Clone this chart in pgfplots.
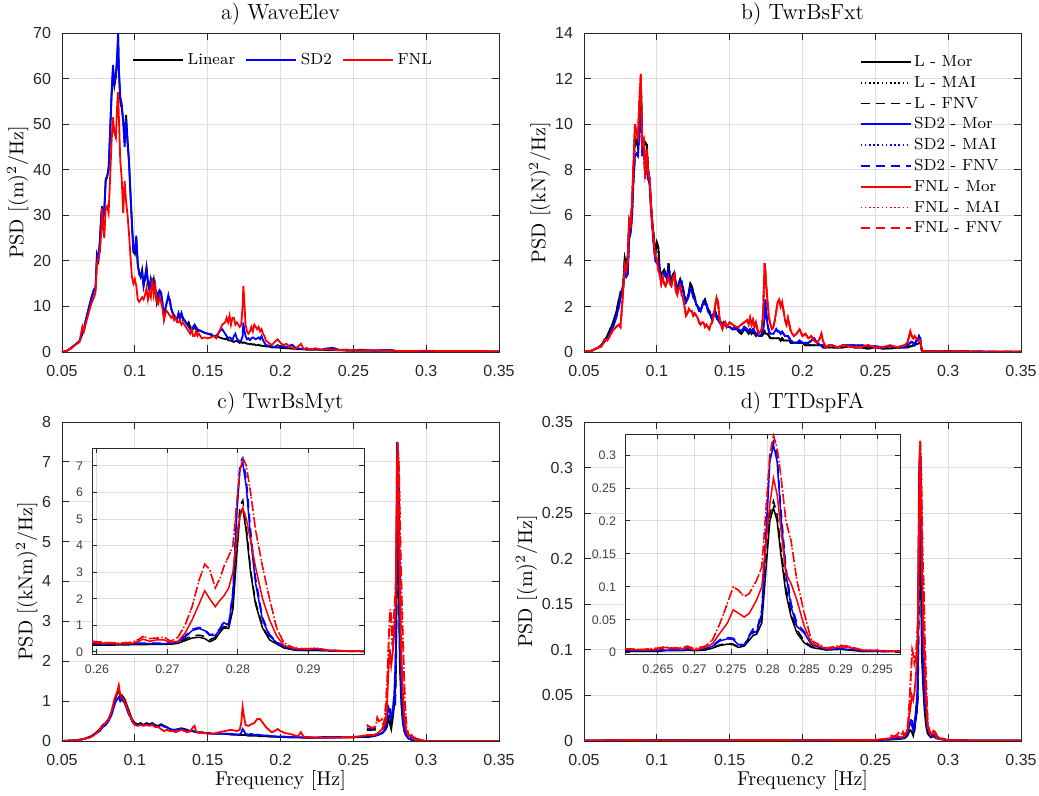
\documentclass[border=0pt]{standalone}
\usepackage{pgfplots}
\pgfplotsset{compat=1.18}
\usepackage{pgfplotstable}
\usepackage{fontspec}
\newfontfamily\tickf{Liberation Sans}

\pgfplotstableread{
x L S F
0.050 0.0 0.0 0.0
0.053 0.2 0.2 0.2
0.056 0.8 0.8 0.7
0.059 1.6 1.6 1.5
0.062 2.3 2.4 2.2
0.064 4.0 4.2 5.6
0.065 4.8 5.0 4.5
0.066 6.5 6.6 5.8
0.068 9.0 9.2 8.2
0.070 11.5 11.8 10.5
0.072 13.5 13.8 12.0
0.073 14.0 14.0 13.0
0.074 21.0 21.5 19.5
0.075 20.0 20.5 20.5
0.076 24.0 24.5 22.0
0.077 30.0 30.5 26.5
0.0775 31.5 32.0 31.5
0.078 29.0 29.5 29.0
0.079 30.5 31.0 25.0
0.080 37.5 38.0 31.5
0.081 38.5 38.5 32.0
0.082 40.0 40.5 30.5
0.083 48.0 48.0 38.0
0.084 56.0 56.5 46.0
0.085 62.0 63.0 51.5
0.086 58.5 59.0 48.0
0.087 60.5 60.5 47.0
0.088 65.0 66.0 55.0
0.0885 69.5 70.0 57.0
0.089 62.0 62.5 52.0
0.090 55.0 56.0 42.0
0.091 53.5 54.5 38.0
0.092 51.0 50.5 30.5
0.093 46.0 45.0 37.5
0.094 52.0 51.0 33.0
0.095 46.5 46.0 30.0
0.096 42.0 41.5 26.0
0.097 35.0 34.5 21.0
0.098 28.0 28.5 16.5
0.099 22.0 22.5 15.0
0.100 21.5 22.0 16.0
0.101 25.0 25.5 14.5
0.102 19.0 19.5 11.5
0.103 17.5 17.0 11.0
0.104 16.5 16.5 11.5
0.105 18.0 17.5 12.0
0.106 14.5 14.5 11.5
0.107 16.0 16.5 12.5
0.108 18.5 18.5 14.0
0.109 15.0 15.5 11.5
0.110 13.5 14.0 13.0
0.111 16.0 16.0 12.0
0.112 14.5 16.0 16.0
0.113 16.0 15.5 12.5
0.114 13.5 14.0 14.5
0.115 11.0 12.5 11.0
0.116 13.0 12.0 10.5
0.117 13.5 13.5 12.0
0.118 13.0 13.0 11.0
0.119 10.0 11.0 9.5
0.120 9.0 7.5 7.0
0.121 9.5 9.5 8.5
0.122 11.0 11.0 9.0
0.123 12.0 12.5 8.5
0.124 11.5 11.0 8.0
0.125 9.5 9.5 7.5
0.126 8.5 8.5 8.0
0.127 8.0 8.0 7.0
0.128 7.5 7.5 7.5
0.129 7.0 7.0 6.5
0.130 8.5 8.5 6.5
0.131 7.5 7.5 7.0
0.132 8.5 8.5 6.0
0.133 7.5 7.0 6.5
0.134 7.0 7.0 6.0
0.135 6.5 6.5 5.5
0.136 6.0 6.0 5.0
0.137 6.5 5.5 4.5
0.138 5.5 5.0 4.0
0.139 5.0 4.5 5.0
0.140 5.0 5.5 3.5
0.141 5.5 6.0 3.5
0.142 5.0 5.5 4.5
0.143 4.5 5.0 3.5
0.144 4.8 4.8 4.0
0.146 4.5 4.5 3.0
0.148 4.2 4.2 3.2
0.150 4.0 4.0 3.0
0.152 3.8 4.0 3.2
0.154 3.5 3.5 3.5
0.156 3.6 3.5 3.0
0.158 3.2 4.5 4.5
0.160 3.0 5.0 6.0
0.162 2.8 4.0 6.5
0.163 3.0 3.5 7.5
0.164 2.6 3.0 6.5
0.165 2.5 3.2 8.0
0.166 2.5 3.0 6.0
0.167 2.3 2.6 7.5
0.168 2.2 3.5 7.5
0.169 2.4 4.0 6.0
0.170 2.4 3.0 6.5
0.171 2.2 2.6 6.0
0.172 2.0 2.4 5.5
0.173 2.2 2.5 6.0
0.174 2.0 3.5 10.0
0.1745 2.0 6.5 14.5
0.175 2.1 5.0 12.0
0.176 2.0 3.5 6.0
0.177 1.8 2.8 4.5
0.178 1.8 3.0 4.0
0.179 1.7 2.6 4.5
0.180 1.8 3.0 5.5
0.181 1.6 3.2 4.5
0.182 1.7 3.0 6.0
0.183 1.5 2.8 5.5
0.184 1.5 3.0 5.0
0.185 1.6 3.2 5.5
0.186 1.4 2.8 4.5
0.187 1.4 3.5 5.0
0.188 1.3 2.6 4.0
0.189 1.3 2.0 3.5
0.190 1.2 1.5 2.5
0.192 1.2 1.4 2.0
0.194 1.0 1.2 1.5
0.196 1.0 1.1 2.2
0.198 1.0 1.5 2.8
0.200 0.9 1.2 2.0
0.202 0.9 1.4 1.5
0.204 0.8 1.0 1.8
0.206 0.8 1.4 1.2
0.208 0.7 1.6 1.0
0.210 0.7 1.0 0.6
0.212 0.6 0.8 1.2
0.214 0.6 0.7 1.8
0.216 0.6 0.6 0.6
0.218 0.5 0.7 0.9
0.220 0.5 0.6 0.5
0.224 0.5 0.7 0.8
0.228 0.5 0.5 0.5
0.232 0.4 0.8 0.6
0.236 0.4 0.9 0.5
0.240 0.4 0.5 0.4
0.245 0.3 0.5 0.5
0.250 0.3 0.4 0.4
0.255 0.3 0.5 0.3
0.260 0.3 0.4 0.4
0.265 0.3 0.3 0.4
0.270 0.3 0.4 0.3
0.275 0.3 0.5 0.4
0.280 0.2 0.2 0.2
0.290 0.2 0.2 0.2
0.300 0.2 0.2 0.3
0.310 0.2 0.2 0.2
0.320 0.2 0.2 0.2
0.330 0.1 0.2 0.2
0.340 0.1 0.1 0.2
0.350 0.1 0.1 0.1
}\ta

\pgfplotstableread{
x L S F
0.050 0.00 0.00 0.00
0.055 0.05 0.05 0.05
0.060 0.20 0.20 0.20
0.062 0.30 0.30 0.25
0.064 0.50 0.45 0.55
0.066 0.70 0.60 0.50
0.068 1.00 0.85 0.75
0.070 1.30 1.10 0.95
0.072 1.70 1.50 1.10
0.074 2.30 2.00 1.20
0.075 2.60 2.40 1.10
0.076 2.50 2.60 1.90
0.077 3.00 3.00 2.80
0.078 4.10 3.50 3.80
0.079 3.80 3.30 3.60
0.080 4.20 3.40 4.00
0.081 5.50 5.00 5.80
0.082 5.60 5.20 5.60
0.083 6.40 6.00 6.60
0.084 8.00 7.60 8.30
0.085 9.40 8.60 10.0
0.086 9.30 8.70 9.60
0.087 9.00 8.60 9.40
0.088 10.2 9.60 11.0
0.089 11.8 10.6 12.2
0.0895 10.5 9.8 10.5
0.090 9.20 8.60 9.10
0.091 9.00 9.00 9.30
0.092 9.20 7.80 7.60
0.093 9.10 8.20 8.90
0.094 8.00 7.60 7.90
0.095 7.60 7.40 7.60
0.096 6.40 6.30 6.50
0.097 5.60 5.40 5.50
0.098 5.00 4.60 4.80
0.099 4.30 4.00 4.20
0.100 4.80 3.90 4.10
0.101 4.60 4.00 3.60
0.102 3.60 3.50 3.40
0.103 3.30 3.20 3.00
0.104 3.50 3.40 3.30
0.105 3.60 3.50 3.00
0.106 3.40 3.30 2.90
0.107 3.20 3.30 3.10
0.108 3.90 3.60 3.30
0.109 3.30 3.20 3.00
0.110 3.10 3.00 2.90
0.111 3.40 3.30 3.20
0.112 3.50 3.40 3.40
0.113 3.00 2.90 2.70
0.114 2.70 2.60 2.50
0.115 3.00 2.90 2.80
0.116 3.20 3.10 2.90
0.117 3.00 3.10 2.50
0.118 2.80 2.70 2.40
0.119 2.40 2.40 2.00
0.120 2.20 2.20 1.60
0.121 2.40 2.30 1.70
0.122 2.60 2.50 1.90
0.123 3.00 2.80 1.80
0.124 2.90 2.70 1.80
0.125 2.60 2.40 1.60
0.126 2.40 2.30 1.70
0.127 2.10 2.10 1.60
0.128 2.00 2.00 1.50
0.129 1.90 1.80 1.30
0.130 1.80 1.80 1.20
0.131 2.00 2.00 1.30
0.132 2.20 2.20 1.30
0.133 2.30 2.10 1.10
0.134 2.10 2.10 1.20
0.135 1.90 1.80 1.10
0.136 1.80 1.70 1.00
0.137 1.60 1.60 1.20
0.138 1.50 1.40 1.30
0.139 1.70 1.60 1.60
0.140 1.80 1.70 2.00
0.141 1.60 1.50 2.40
0.142 1.50 1.40 2.20
0.143 1.40 1.30 1.50
0.144 1.30 1.20 1.20
0.145 1.20 1.20 1.00
0.146 1.30 1.30 1.20
0.147 1.20 1.20 1.30
0.148 1.10 1.10 1.10
0.150 1.10 1.10 1.30
0.152 1.00 1.00 1.20
0.154 1.10 1.00 1.10
0.156 0.90 1.00 1.10
0.158 0.80 0.90 1.20
0.160 1.00 1.10 1.30
0.162 0.90 1.00 1.40
0.163 0.80 0.90 1.20
0.164 0.90 1.00 1.50
0.165 0.80 0.90 1.20
0.166 0.90 1.00 1.40
0.167 0.80 0.90 1.10
0.168 0.70 0.80 1.30
0.169 0.80 0.80 1.00
0.170 0.70 0.70 0.80
0.171 0.70 0.70 0.90
0.172 0.70 0.80 1.00
0.173 0.80 1.00 1.80
0.174 0.90 1.50 3.90
0.1745 0.80 2.30 3.60
0.175 0.80 1.80 3.00
0.176 0.80 1.20 2.20
0.177 0.70 0.90 1.50
0.178 0.60 0.80 1.20
0.179 0.60 0.80 1.00
0.180 0.60 0.80 1.10
0.181 0.60 0.90 1.40
0.182 0.60 1.00 1.80
0.183 0.60 0.90 2.20
0.184 0.60 0.90 2.30
0.185 0.50 0.80 2.00
0.186 0.60 0.90 2.20
0.187 0.50 0.80 1.80
0.188 0.50 0.70 1.40
0.189 0.50 0.70 1.20
0.190 0.50 0.70 1.50
0.191 0.50 0.60 1.20
0.192 0.40 0.50 0.90
0.194 0.40 0.40 0.70
0.196 0.40 0.40 0.80
0.198 0.40 0.50 1.00
0.200 0.40 0.40 0.70
0.202 0.30 0.40 0.80
0.204 0.30 0.40 0.60
0.206 0.30 0.50 0.70
0.208 0.30 0.60 0.50
0.210 0.30 0.40 0.40
0.212 0.30 0.30 0.60
0.213 0.30 0.30 0.80
0.214 0.20 0.30 0.50
0.216 0.20 0.20 0.20
0.218 0.20 0.30 0.30
0.220 0.20 0.30 0.30
0.224 0.20 0.20 0.20
0.228 0.20 0.30 0.30
0.232 0.25 0.30 0.25
0.236 0.20 0.30 0.20
0.240 0.20 0.30 0.20
0.245 0.15 0.25 0.30
0.250 0.20 0.25 0.20
0.255 0.15 0.20 0.20
0.260 0.15 0.25 0.30
0.265 0.20 0.20 0.20
0.270 0.20 0.20 0.30
0.272 0.20 0.30 0.40
0.274 0.25 0.40 0.90
0.275 0.25 0.45 0.70
0.276 0.30 0.40 0.60
0.277 0.30 0.30 0.70
0.278 0.35 0.50 0.60
0.279 0.35 0.50 0.55
0.280 0.40 0.70 0.55
0.281 0.40 0.60 0.50
0.2815 0.20 0.20 0.20
0.282 0.05 0.05 0.05
0.285 0.03 0.03 0.03
0.290 0.02 0.02 0.02
0.300 0.02 0.02 0.02
0.310 0.02 0.02 0.02
0.320 0.01 0.02 0.01
0.330 0.01 0.01 0.01
0.350 0.01 0.01 0.01
}\tb

\pgfplotstableread{
x L S F
0.050 0.00 0.00 0.00
0.055 0.01 0.01 0.01
0.060 0.02 0.02 0.02
0.065 0.05 0.05 0.05
0.070 0.12 0.10 0.10
0.073 0.20 0.18 0.18
0.076 0.30 0.25 0.28
0.078 0.40 0.35 0.40
0.080 0.45 0.40 0.45
0.082 0.55 0.50 0.55
0.084 0.70 0.65 0.75
0.086 0.95 0.90 1.05
0.087 1.10 1.00 1.15
0.088 1.20 1.05 1.25
0.089 1.30 1.10 1.40
0.090 1.10 1.00 1.15
0.091 1.15 1.05 1.10
0.092 1.10 1.00 1.05
0.093 1.05 0.95 1.00
0.094 0.95 0.85 0.90
0.095 0.85 0.75 0.80
0.096 0.75 0.65 0.70
0.097 0.65 0.60 0.60
0.098 0.55 0.50 0.55
0.099 0.50 0.45 0.45
0.100 0.45 0.42 0.40
0.102 0.42 0.40 0.38
0.104 0.45 0.42 0.40
0.106 0.40 0.40 0.38
0.108 0.45 0.42 0.40
0.110 0.42 0.40 0.38
0.112 0.45 0.42 0.40
0.114 0.40 0.38 0.35
0.116 0.38 0.36 0.35
0.118 0.42 0.40 0.30
0.120 0.38 0.36 0.25
0.122 0.35 0.34 0.28
0.124 0.30 0.30 0.25
0.126 0.28 0.28 0.25
0.128 0.28 0.28 0.22
0.130 0.30 0.30 0.25
0.132 0.32 0.30 0.28
0.134 0.30 0.28 0.25
0.136 0.28 0.26 0.22
0.138 0.25 0.25 0.24
0.140 0.25 0.24 0.35
0.141 0.24 0.23 0.38
0.142 0.22 0.22 0.25
0.144 0.22 0.21 0.20
0.146 0.22 0.21 0.22
0.148 0.20 0.20 0.20
0.150 0.20 0.20 0.18
0.154 0.18 0.18 0.18
0.158 0.18 0.18 0.22
0.162 0.18 0.18 0.25
0.166 0.16 0.18 0.28
0.170 0.16 0.16 0.25
0.172 0.15 0.16 0.28
0.173 0.15 0.20 0.45
0.174 0.15 0.30 0.85
0.175 0.15 0.25 0.60
0.176 0.15 0.18 0.40
0.178 0.13 0.16 0.38
0.180 0.13 0.18 0.42
0.182 0.13 0.15 0.45
0.184 0.13 0.16 0.55
0.186 0.12 0.15 0.55
0.188 0.12 0.14 0.45
0.190 0.12 0.14 0.35
0.192 0.11 0.13 0.28
0.194 0.11 0.12 0.22
0.196 0.11 0.12 0.25
0.198 0.10 0.11 0.30
0.200 0.10 0.11 0.25
0.203 0.10 0.11 0.20
0.206 0.09 0.10 0.18
0.209 0.09 0.10 0.15
0.212 0.09 0.10 0.12
0.214 0.09 0.09 0.22
0.216 0.08 0.09 0.10
0.220 0.08 0.08 0.10
0.225 0.08 0.09 0.08
0.230 0.08 0.10 0.08
0.235 0.08 0.10 0.09
0.240 0.09 0.10 0.08
0.245 0.09 0.09 0.10
0.250 0.09 0.10 0.10
0.255 0.10 0.11 0.12
0.260 0.10 0.12 0.15
0.264 0.12 0.13 0.15
0.267 0.15 0.16 0.20
0.270 0.20 0.20 0.30
0.272 0.28 0.30 0.45
0.273 0.35 0.50 0.80
0.274 0.55 0.85 1.70
0.275 0.45 0.75 2.30
0.276 0.30 0.55 1.90
0.277 0.55 0.70 2.20
0.278 0.90 1.10 2.70
0.279 1.50 2.00 3.40
0.2795 3.00 4.00 5.00
0.280 5.30 7.50 7.00
0.2805 5.50 7.40 7.50
0.281 4.50 6.00 5.50
0.2815 3.00 4.20 4.80
0.282 1.80 2.50 3.60
0.283 0.90 1.20 2.00
0.284 0.45 0.55 1.20
0.285 0.25 0.25 0.60
0.286 0.15 0.15 0.30
0.288 0.06 0.06 0.12
0.290 0.03 0.03 0.15
0.292 0.02 0.02 0.03
0.295 0.01 0.01 0.01
0.300 0.00 0.00 0.00
0.350 0.00 0.00 0.00
}\tc

\pgfplotstableread{
x LM LF SM SF FM FF
0.2593 0.25 0.28 0.30 0.32 0.35 0.40
0.2610 0.25 0.27 0.30 0.31 0.33 0.36
0.2630 0.26 0.28 0.30 0.32 0.30 0.33
0.2650 0.27 0.28 0.31 0.32 0.32 0.36
0.2660 0.27 0.29 0.31 0.33 0.40 0.48
0.2665 0.27 0.29 0.31 0.33 0.48 0.58
0.2675 0.28 0.30 0.31 0.33 0.40 0.50
0.2685 0.28 0.30 0.31 0.33 0.45 0.52
0.2695 0.28 0.30 0.31 0.33 0.45 0.55
0.2705 0.29 0.31 0.32 0.34 0.35 0.40
0.2715 0.32 0.35 0.38 0.40 0.40 0.55
0.2725 0.42 0.48 0.55 0.60 0.70 1.00
0.2735 0.52 0.60 0.80 0.85 1.20 1.70
0.2745 0.55 0.63 0.88 0.92 1.80 2.70
0.2753 0.50 0.58 0.80 0.85 2.30 3.30
0.2760 0.38 0.45 0.62 0.65 2.00 3.10
0.2768 0.48 0.55 0.62 0.68 1.70 2.40
0.2775 0.75 0.82 0.85 0.90 1.95 2.80
0.2780 0.90 0.95 1.10 1.15 2.10 3.20
0.2787 0.88 0.93 1.00 1.05 2.40 3.60
0.2793 1.60 1.75 2.20 2.30 3.00 4.00
0.2798 3.50 3.80 5.00 5.20 4.20 5.50
0.2803 5.20 5.50 6.90 7.10 5.10 6.80
0.2807 5.40 5.70 7.10 7.30 5.40 7.30
0.2812 4.50 4.70 6.20 6.50 5.00 7.00
0.2818 3.00 3.10 4.30 4.60 4.20 6.00
0.2825 1.80 1.90 2.60 2.80 3.20 4.60
0.2835 0.90 0.95 1.20 1.30 2.00 3.20
0.2845 0.45 0.50 0.60 0.65 1.20 2.00
0.2855 0.30 0.32 0.35 0.38 0.60 0.90
0.2865 0.15 0.17 0.20 0.22 0.25 0.35
0.2880 0.07 0.08 0.09 0.10 0.12 0.14
0.2900 0.05 0.06 0.08 0.08 0.10 0.12
0.2910 0.06 0.07 0.09 0.10 0.13 0.14
0.2930 0.04 0.04 0.05 0.05 0.06 0.06
0.2960 0.02 0.02 0.03 0.03 0.03 0.03
0.2980 0.02 0.02 0.02 0.02 0.02 0.02
}\tci

\pgfplotstableread{
x L S F
0.050 0.0005 0.0005 0.0005
0.080 0.0008 0.0008 0.0010
0.100 0.0010 0.0010 0.0008
0.150 0.0008 0.0008 0.0008
0.170 0.0008 0.0008 0.0012
0.200 0.0008 0.0008 0.0008
0.230 0.0008 0.0008 0.0010
0.250 0.0010 0.0010 0.0012
0.260 0.0015 0.0020 0.0030
0.265 0.0020 0.0025 0.0050
0.268 0.0025 0.0030 0.0040
0.270 0.0030 0.0040 0.0060
0.272 0.0060 0.0080 0.0110
0.273 0.0100 0.0150 0.0250
0.274 0.0120 0.0200 0.0350
0.275 0.0100 0.0180 0.0500
0.276 0.0060 0.0120 0.0450
0.277 0.0150 0.0220 0.0550
0.278 0.0260 0.0330 0.0750
0.279 0.0450 0.0600 0.1100
0.2795 0.120 0.170 0.170
0.280 0.200 0.290 0.230
0.2805 0.220 0.315 0.320
0.281 0.200 0.290 0.300
0.2815 0.150 0.210 0.260
0.282 0.090 0.120 0.190
0.283 0.055 0.070 0.120
0.284 0.030 0.040 0.080
0.285 0.015 0.030 0.040
0.286 0.008 0.012 0.015
0.288 0.004 0.005 0.007
0.290 0.005 0.006 0.011
0.292 0.003 0.003 0.004
0.295 0.002 0.002 0.002
0.300 0.001 0.001 0.001
0.320 0.0005 0.0005 0.0005
0.350 0.0005 0.0005 0.0005
}\td

\pgfplotstableread{
x LM LF SM SF FM FF
0.2605 0.002 0.003 0.003 0.004 0.005 0.006
0.2630 0.002 0.003 0.003 0.004 0.004 0.005
0.2650 0.002 0.003 0.003 0.004 0.005 0.007
0.2660 0.003 0.004 0.004 0.005 0.008 0.009
0.2670 0.003 0.004 0.004 0.005 0.006 0.007
0.2685 0.003 0.004 0.004 0.005 0.006 0.008
0.2690 0.004 0.005 0.005 0.006 0.008 0.010
0.2700 0.003 0.004 0.004 0.005 0.004 0.006
0.2715 0.004 0.005 0.006 0.007 0.008 0.010
0.2725 0.007 0.008 0.010 0.011 0.014 0.020
0.2735 0.011 0.012 0.018 0.020 0.030 0.045
0.2745 0.013 0.014 0.021 0.023 0.045 0.075
0.2753 0.012 0.013 0.020 0.022 0.065 0.100
0.2760 0.008 0.009 0.012 0.013 0.060 0.095
0.2768 0.010 0.011 0.011 0.012 0.054 0.085
0.2775 0.019 0.021 0.025 0.027 0.060 0.090
0.2780 0.026 0.030 0.033 0.036 0.070 0.100
0.2785 0.028 0.032 0.030 0.034 0.080 0.110
0.2792 0.045 0.050 0.060 0.065 0.100 0.130
0.2798 0.130 0.145 0.180 0.190 0.170 0.220
0.2803 0.200 0.210 0.290 0.300 0.225 0.300
0.2808 0.220 0.230 0.315 0.320 0.265 0.330
0.2813 0.200 0.210 0.290 0.300 0.240 0.310
0.2818 0.150 0.160 0.210 0.220 0.190 0.270
0.2825 0.090 0.100 0.120 0.130 0.120 0.200
0.2832 0.055 0.060 0.070 0.075 0.105 0.170
0.2840 0.030 0.035 0.040 0.045 0.080 0.110
0.2850 0.015 0.018 0.030 0.032 0.040 0.060
0.2860 0.008 0.009 0.012 0.014 0.014 0.018
0.2880 0.004 0.005 0.005 0.006 0.006 0.007
0.2900 0.005 0.006 0.006 0.007 0.009 0.011
0.2910 0.004 0.005 0.005 0.006 0.008 0.010
0.2930 0.002 0.003 0.003 0.003 0.004 0.004
0.2960 0.002 0.002 0.002 0.002 0.003 0.003
0.2981 0.002 0.002 0.002 0.002 0.002 0.002
}\tdi

\pgfplotsset{
  Lc/.style={black, line width=0.9pt},
  Sc/.style={blue, line width=0.9pt},
  Fc/.style={red, line width=0.9pt},
  dotl/.style={dash pattern=on 0.8pt off 1.3pt},
  dashl/.style={dash pattern=on 4.5pt off 3pt},
  common/.style={
    scale only axis, anchor=south west, enlargelimits=false,
    scaled ticks=false,
    grid=major, major grid style={black!13, line width=0.45pt},
    tick align=inside,
    axis line style={black!85, line width=0.45pt},
    tick style={black!85, line width=0.45pt},
    /pgf/number format/assume math mode=true,
    /pgf/number format/fixed, /pgf/number format/precision=3,
  },
  base/.style={
    common,
    width=218.5pt, height=159.5pt,
    xmin=0.05, xmax=0.35, xtick={0.05,0.1,0.15,0.2,0.25,0.3,0.35},
    major tick length=3.5pt,
    tick label style={font=\tickf\fontsize{8}{9}\selectfont, text=black!85},
    xticklabel style={yshift=-3pt},
    yticklabel style={xshift=-2pt},
    title style={font=\fontsize{11}{13}\selectfont, yshift=-5.5pt},
    label style={font=\fontsize{10}{12}\selectfont},
    xlabel style={yshift=4.5pt},
    ylabel style={yshift=-4.5pt},
    legend cell align=left,
    legend image code/.code={\draw[##1] (0pt,0pt) -- (25pt,0pt);},
  },
  inset/.style={
    common,
    major tick length=2.5pt,
    axis background/.style={fill=white},
    tick label style={font=\tickf\fontsize{6.2}{7}\selectfont, text=black!75},
    xticklabel style={yshift=-2pt},
    yticklabel style={xshift=-1pt},
  },
}

\begin{document}
\begin{tikzpicture}
\useasboundingbox (0,0) rectangle (519.5pt,398pt);

% ---------- a) ----------
\begin{axis}[base, at={(31pt,222pt)},
  ymin=0, ymax=70, ytick={0,10,20,30,40,50,60,70},
  title={a) WaveElev}, ylabel={PSD [(m)$^2$/Hz]},
  legend columns=3,
  legend style={at={(0.508,0.915)}, anchor=center, draw=none, fill=none,
    font=\fontsize{8}{9}\selectfont, inner sep=0pt,
    /tikz/every even column/.append style={column sep=3pt}},
]
\addplot[Lc] table[x=x,y=L]{\ta}; \addlegendentry{Linear}
\addplot[Sc] table[x=x,y=S]{\ta}; \addlegendentry{SD2}
\addplot[Fc] table[x=x,y=F]{\ta}; \addlegendentry{FNL}
\end{axis}

% ---------- b) ----------
\begin{axis}[base, at={(292pt,222pt)},
  ymin=0, ymax=14, ytick={0,2,4,6,8,10,12,14},
  title={b) TwrBsFxt}, ylabel={PSD [(kN)$^2$/Hz]},
  legend style={at={(0.63,0.943)}, anchor=north west, draw=none, fill=none,
    font=\fontsize{8}{9}\selectfont, inner sep=0pt, row sep=0pt,
    nodes={inner sep=1.3pt, text height=6.2pt, text depth=1.6pt}},
]
\addplot[Lc] table[x=x,y=L]{\tb}; \addlegendentry{L - Mor}
\addplot[Lc,dotl] table[x=x,y=L]{\tb}; \addlegendentry{L - MAI}
\addplot[Lc,dashl] table[x=x,y=L]{\tb}; \addlegendentry{L - FNV}
\addplot[Sc] table[x=x,y=S]{\tb}; \addlegendentry{SD2 - Mor}
\addplot[Sc,dotl] table[x=x,y=S]{\tb}; \addlegendentry{SD2 - MAI}
\addplot[Sc,dashl] table[x=x,y=S]{\tb}; \addlegendentry{SD2 - FNV}
\addplot[Fc] table[x=x,y=F]{\tb}; \addlegendentry{FNL - Mor}
\addplot[Fc,dotl] table[x=x,y=F]{\tb}; \addlegendentry{FNL - MAI}
\addplot[Fc,dashl] table[x=x,y=F]{\tb}; \addlegendentry{FNL - FNV}
\node[anchor=south west, inner sep=0pt, yshift=1.5pt, font=\tickf\fontsize{8}{9}\selectfont, text=black!70] at (rel axis cs:0,1) {×10\textsuperscript{6}};
\end{axis}

% ---------- c) ----------
\begin{axis}[base, at={(31pt,27.5pt)},
  ymin=0, ymax=8, ytick={0,1,2,3,4,5,6,7,8},
  title={c) TwrBsMyt}, ylabel={PSD [(kNm)$^2$/Hz]}, xlabel={Frequency [Hz]},
]
\addplot[Lc] table[x=x,y=L]{\tc};
\addplot[Lc,dashl] table[x=x,y=LF]{\tci};
\addplot[Sc] table[x=x,y=S]{\tc};
\addplot[Sc,dashl] table[x=x,y=SF]{\tci};
\addplot[Fc] table[x=x,y=F]{\tc};
\addplot[Fc,dotl] table[x=x,y=FF]{\tci};
\addplot[Fc,dashl] table[x=x,y=FF]{\tci};
\node[anchor=south west, inner sep=0pt, yshift=1.5pt, font=\tickf\fontsize{8}{9}\selectfont, text=black!70] at (rel axis cs:0,1) {×10\textsuperscript{9}};
\end{axis}

\begin{axis}[inset, at={(46pt,71pt)}, width=136pt, height=103pt,
  xmin=0.2593, xmax=0.2979, xtick={0.26,0.27,0.28,0.29},
  ymin=-0.08, ymax=7.67, ytick={0,1,2,3,4,5,6,7},
]
\addplot[black, line width=0.75pt] table[x=x,y=LM]{\tci};
\addplot[black, line width=0.75pt, dashl] table[x=x,y=LF]{\tci};
\addplot[blue, line width=0.75pt] table[x=x,y=SM]{\tci};
\addplot[blue, line width=0.75pt, dashl] table[x=x,y=SF]{\tci};
\addplot[red, line width=0.75pt] table[x=x,y=FM]{\tci};
\addplot[red, line width=0.75pt, dotl] table[x=x,y=FF]{\tci};
\addplot[red, line width=0.75pt, dashl] table[x=x,y=FF]{\tci};
\node[anchor=south west, inner sep=0pt, yshift=1pt, font=\tickf\fontsize{6.2}{7}\selectfont, text=black!60] at (rel axis cs:0,1) {×10\textsuperscript{9}};
\end{axis}

% ---------- d) ----------
\begin{axis}[base, at={(292pt,27.5pt)},
  ymin=0, ymax=0.35, ytick={0,0.05,0.1,0.15,0.2,0.25,0.3,0.35},
  title={d) TTDspFA}, ylabel={PSD [(m)$^2$/Hz]}, xlabel={Frequency [Hz]},
]
\addplot[Lc] table[x=x,y=L]{\td};
\addplot[Lc,dashl] table[x=x,y=LF]{\tdi};
\addplot[Sc] table[x=x,y=S]{\td};
\addplot[Sc,dashl] table[x=x,y=SF]{\tdi};
\addplot[Fc] table[x=x,y=F]{\td};
\addplot[Fc,dotl] table[x=x,y=FF]{\tdi};
\addplot[Fc,dashl] table[x=x,y=FF]{\tdi};
\end{axis}

\begin{axis}[inset, at={(312.5pt,71pt)}, width=137.5pt, height=110pt,
  xmin=0.2605, xmax=0.2981, xtick={0.265,0.27,0.275,0.28,0.285,0.29,0.295},
  ymin=-0.002, ymax=0.332, ytick={0,0.05,0.1,0.15,0.2,0.25,0.3},
]
\addplot[black, line width=0.75pt] table[x=x,y=LM]{\tdi};
\addplot[black, line width=0.75pt, dashl] table[x=x,y=LF]{\tdi};
\addplot[blue, line width=0.75pt] table[x=x,y=SM]{\tdi};
\addplot[blue, line width=0.75pt, dashl] table[x=x,y=SF]{\tdi};
\addplot[red, line width=0.75pt] table[x=x,y=FM]{\tdi};
\addplot[red, line width=0.75pt, dotl] table[x=x,y=FF]{\tdi};
\addplot[red, line width=0.75pt, dashl] table[x=x,y=FF]{\tdi};
\end{axis}
\end{tikzpicture}
\end{document}
